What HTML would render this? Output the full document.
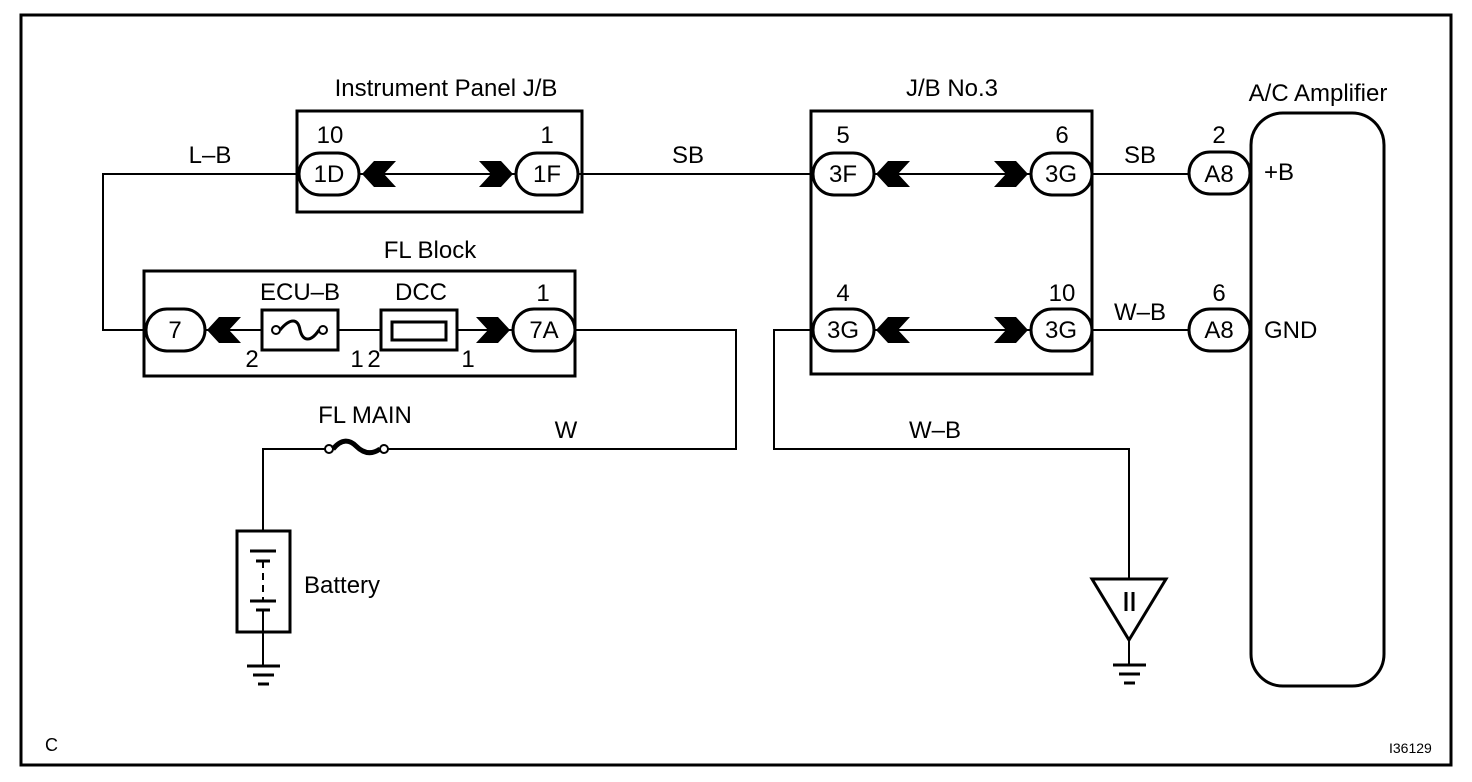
<!DOCTYPE html>
<html><head><meta charset="utf-8"><style>
html,body{margin:0;padding:0;background:#fff;}
svg{display:block;}
text{font-family:"Liberation Sans",sans-serif;font-size:24px;fill:#000;}
</style></head><body>
<svg width="1472" height="782" viewBox="0 0 1472 782" xmlns="http://www.w3.org/2000/svg">
<rect x="21" y="15" width="1430" height="750" fill="none" stroke="#000" stroke-width="3"/>
<g fill="none" stroke="#000" stroke-width="2">
<polyline points="300,174 103,174 103,330 146,330"/>
<line x1="360" y1="174" x2="516" y2="174"/>
<line x1="578" y1="174" x2="812" y2="174"/>
<line x1="874" y1="174" x2="1032" y2="174"/>
<line x1="1092" y1="174" x2="1190" y2="174"/>
<line x1="874" y1="330" x2="1032" y2="330"/>
<line x1="1092" y1="330" x2="1190" y2="330"/>
<line x1="204" y1="330" x2="514" y2="330"/>
<polyline points="575,330 736,330 736,449 388,449"/>
<polyline points="325,449 263,449 263,530"/>
<line x1="263" y1="632" x2="263" y2="665"/>
<polyline points="812,330 774,330 774,449 1129,449 1129,580"/>
<line x1="1129" y1="640" x2="1129" y2="665"/>
</g>
<g fill="none" stroke="#000" stroke-width="3">
<rect x="297" y="111" width="285" height="101"/>
<rect x="811" y="111" width="281" height="263"/>
<rect x="144" y="271" width="431" height="105"/>
<rect x="1251" y="113" width="133" height="573" rx="32"/>
<rect x="262" y="310" width="76" height="40" fill="#fff"/>
<rect x="381" y="310" width="76" height="40" fill="#fff"/>
<rect x="392" y="322" width="54" height="18"/>
<rect x="237" y="531" width="53" height="101" fill="#fff"/>
<polygon points="1092,579 1166,579 1129,640" fill="#fff"/>
</g>
<g fill="#fff" stroke="#000" stroke-width="3">
<rect x="299" y="153" width="60" height="42" rx="21"/>
<rect x="516" y="153" width="62" height="42" rx="21"/>
<rect x="813" y="153" width="61" height="42" rx="21"/>
<rect x="1031" y="153" width="61" height="42" rx="21"/>
<rect x="813" y="309" width="61" height="42" rx="21"/>
<rect x="1031" y="309" width="61" height="42" rx="21"/>
<rect x="1189" y="152" width="61" height="42" rx="21"/>
<rect x="1189" y="309" width="61" height="42" rx="21"/>
<rect x="146" y="309" width="59" height="42" rx="21"/>
<rect x="513" y="309" width="62" height="42" rx="21"/>
</g>
<g fill="#000">
<polygon points="362,174 374,161 396,161 384,174 396,187 374,187"/>
<polygon points="513,174 501,161 479,161 491,174 479,187 501,187"/>
<polygon points="876,174 888,161 910,161 898,174 910,187 888,187"/>
<polygon points="1028,174 1016,161 994,161 1006,174 994,187 1016,187"/>
<polygon points="876,330 888,317 910,317 898,330 910,343 888,343"/>
<polygon points="1028,330 1016,317 994,317 1006,330 994,343 1016,343"/>
<polygon points="207,330 219,317 241,317 229,330 241,343 219,343"/>
<polygon points="510,330 498,317 476,317 488,330 476,343 498,343"/>
</g>
<g fill="#fff" stroke="#000" stroke-width="2">
<circle cx="276" cy="330" r="4"/><circle cx="323" cy="330" r="4"/>
<path d="M280,330 C290,318 298,318 300,330 C303,342 311,342 319,330" fill="none" stroke-width="3"/>
<circle cx="329" cy="449" r="4"/><circle cx="384" cy="449" r="4"/>
<path d="M333,449 C342,438 350,440 356,446 C362,452 370,456 380,449" fill="none" stroke-width="5"/>
</g>
<g stroke="#000" stroke-width="3">
<line x1="250" y1="551" x2="276" y2="551"/>
<line x1="256" y1="561" x2="270" y2="561"/>
<line x1="263" y1="561" x2="263" y2="601" stroke-dasharray="7,5" stroke-width="2"/>
<line x1="250" y1="601" x2="276" y2="601"/>
<line x1="256" y1="610" x2="270" y2="610"/>
<line x1="263" y1="610" x2="263" y2="631" stroke-width="2"/>
<line x1="247" y1="666" x2="280" y2="666"/>
<line x1="253" y1="675" x2="274" y2="675"/>
<line x1="258" y1="684" x2="269" y2="684"/>
<line x1="1113" y1="665" x2="1146" y2="665"/>
<line x1="1119" y1="674" x2="1140" y2="674"/>
<line x1="1124" y1="683" x2="1135" y2="683"/>
<line x1="1126" y1="592" x2="1126" y2="611"/>
<line x1="1133" y1="592" x2="1133" y2="611"/>
</g>
<g text-anchor="middle">
<text x="446" y="96">Instrument Panel J/B</text>
<text x="952" y="96">J/B No.3</text>
<text x="1318" y="101">A/C Amplifier</text>
<text x="430" y="258">FL Block</text>
<text x="365" y="423">FL MAIN</text>
<text x="566" y="438">W</text>
<text x="935" y="438">W–B</text>
<text x="210" y="163">L–B</text>
<text x="688" y="163">SB</text>
<text x="1140" y="163">SB</text>
<text x="1140" y="320">W–B</text>
<text x="330" y="143">10</text>
<text x="547" y="143">1</text>
<text x="843" y="143">5</text>
<text x="1062" y="143">6</text>
<text x="843" y="301">4</text>
<text x="1062" y="301">10</text>
<text x="1219" y="143">2</text>
<text x="1219" y="301">6</text>
<text x="543" y="301">1</text>
<text x="300" y="300">ECU–B</text>
<text x="421" y="300">DCC</text>
<text x="252" y="367">2</text>
<text x="357" y="367">1</text>
<text x="374" y="367">2</text>
<text x="468" y="367">1</text>
<text x="329" y="182">1D</text>
<text x="547" y="182">1F</text>
<text x="843" y="182">3F</text>
<text x="1061" y="182">3G</text>
<text x="843" y="338">3G</text>
<text x="1061" y="338">3G</text>
<text x="1219" y="182">A8</text>
<text x="1219" y="338">A8</text>
<text x="175" y="338">7</text>
<text x="544" y="338">7A</text>
</g>
<text x="1264" y="180">+B</text>
<text x="1264" y="338">GND</text>
<text x="304" y="593">Battery</text>
<text x="45" y="751" style="font-size:18px">C</text>
<text x="1389" y="753" style="font-size:14px">I36129</text>
</svg>
</body></html>
